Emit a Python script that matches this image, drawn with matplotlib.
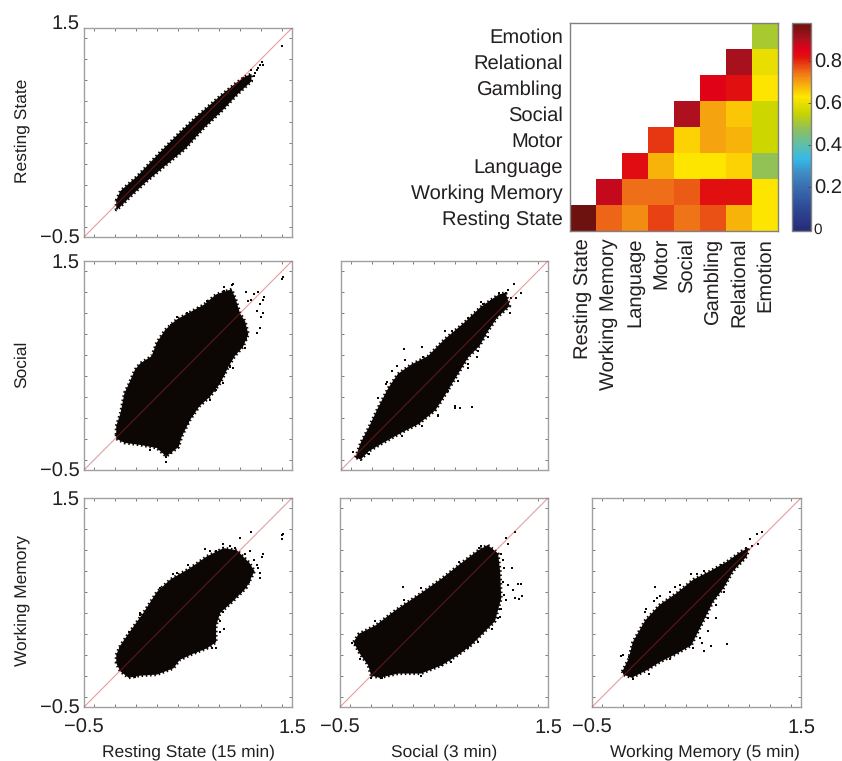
import numpy as np
import matplotlib
matplotlib.use('Agg')
import matplotlib.pyplot as plt
from matplotlib.colors import LinearSegmentedColormap
from matplotlib.transforms import ScaledTranslation

plt.rcParams['font.family'] = ['Liberation Sans', 'DejaVu Sans']
plt.rcParams['text.hinting'] = 'no_hinting'

W, H = 842, 761
ink = '#231f20'
cloud = '#0c0705'

tasks = ['Resting State', 'Working Memory', 'Language', 'Motor', 'Social',
         'Gambling', 'Relational', 'Emotion']
corr = [[0.98, 0.755, 0.72, 0.78, 0.74, 0.77, 0.68, 0.63],
        [np.nan, 0.88, 0.745, 0.745, 0.76, 0.82, 0.82, 0.63],
        [np.nan, np.nan, 0.83, 0.68, 0.63, 0.63, 0.65, 0.48],
        [np.nan, np.nan, np.nan, 0.79, 0.65, 0.695, 0.68, 0.56],
        [np.nan, np.nan, np.nan, np.nan, 0.90, 0.695, 0.66, 0.56],
        [np.nan, np.nan, np.nan, np.nan, np.nan, 0.85, 0.82, 0.63],
        [np.nan, np.nan, np.nan, np.nan, np.nan, np.nan, 0.91, 0.60],
        [np.nan, np.nan, np.nan, np.nan, np.nan, np.nan, np.nan, 0.51]]
cbar_ticks = [0, 0.2, 0.4, 0.6, 0.8]
cbar_min = -0.012
cbar_max = 0.98

# outlines of the dense clouds and the stray points
rest_rest_x = [-0.19, -0.15, 0.01, 0.23, 0.41, 0.58, 0.81, 0.97, 1.06, 1.11, 1.11, 0.97, 0.84, 0.65, 0.47, 0.29, 0.10, -0.04, -0.15, -0.19]
rest_rest_y = [-0.15, -0.06, 0.08, 0.31, 0.49, 0.65, 0.85, 0.98, 1.04, 1.06, 0.99, 0.86, 0.72, 0.54, 0.34, 0.19, 0.03, -0.10, -0.21, -0.24]
rest_rest_px = [1.40, 1.22, 1.19, 1.16, 1.21, 1.14, 1.11, 1.13, 1.17, 1.03, 1.01]
rest_rest_py = [1.33, 1.15, 1.15, 1.10, 1.17, 1.07, 1.10, 1.04, 1.12, 1.02, 0.97]

rest_soc_x = [-0.19, -0.19, -0.15, -0.11, -0.07, -0.01, 0.04, 0.15, 0.20, 0.28, 0.39, 0.50, 0.65, 0.77, 0.92, 0.96, 1.00, 1.05, 1.08, 1.03, 0.95, 0.89, 0.81, 0.71, 0.61, 0.52, 0.44, 0.41, 0.29, 0.20, 0.04, -0.11, -0.19]
rest_soc_y = [-0.16, -0.08, 0.04, 0.24, 0.32, 0.46, 0.52, 0.59, 0.72, 0.84, 0.94, 1.00, 1.08, 1.18, 1.23, 1.13, 1.00, 0.92, 0.80, 0.68, 0.59, 0.49, 0.33, 0.20, 0.11, -0.02, -0.18, -0.28, -0.37, -0.29, -0.26, -0.24, -0.20]
rest_soc_px = [1.40, 1.41, 1.23, 1.19, 1.17, 1.22, 1.20, 0.93, 0.85, 1.08, 1.13, 0.90, 0.85, 0.29,
               0.85, 0.92, 0.77, 0.68, 0.60, 0.49, 0.39, 0.34, 1.06, 1.11, 1.22, 1.16, 1.19, 1.16, 1.06, 1.05, 0.93, 0.90, 0.84, 0.77, 0.71, 0.55, 0.50, 0.29, 0.34, 0.13]
rest_soc_py = [1.33, 1.35, 1.16, 1.09, 1.20, 1.00, 0.96, 1.28, 1.25, 1.12, 1.18, 0.50, 0.42, -0.42,
               1.21, 1.27, 1.16, 1.12, 1.05, 1.00, 0.96, 0.89, 1.20, 1.13, 1.13, 1.02, 0.86, 0.81, 0.75, 0.67, 0.48, 0.49, 0.33, 0.27, 0.17, 0.04, -0.05, -0.38, -0.34, -0.31]

soc_soc_x = [-0.36, -0.31, -0.23, -0.14, -0.04, 0.05, 0.18, 0.34, 0.50, 0.69, 0.85, 1.01, 1.09, 1.13, 1.01, 0.92, 0.84, 0.73, 0.60, 0.47, 0.41, 0.25, 0.09, -0.11, -0.23, -0.31]
soc_soc_y = [-0.38, -0.24, -0.09, 0.10, 0.29, 0.42, 0.51, 0.59, 0.75, 0.91, 1.06, 1.17, 1.20, 1.07, 0.96, 0.83, 0.69, 0.58, 0.37, 0.16, 0.07, -0.06, -0.14, -0.25, -0.32, -0.40]
soc_soc_px = [0.11, 0.28, -0.01, 0.50, 0.60, 0.60, 0.65, 0.77, 1.17, 1.11, 1.24, 1.14, 1.19, 1.03, 1.13, 0.85, -0.06, 0.44, 0.81, 0.73,
              0.12, 0.04, -0.07, -0.14, 0.29, 0.41, 0.57, 0.73, 0.87, 0.95, 1.09, 1.05, 1.01, 0.92, 0.82, 0.73, 0.63, 0.53, 0.44, 0.28, 0.09, -0.23, -0.35, -0.38]
soc_soc_py = [0.66, 0.68, 0.45, 0.83, 0.11, 0.09, 0.09, 0.10, 1.28, 1.22, 1.19, 1.15, 1.15, 1.19, 1.00, 1.11, 0.34, 0.02, 0.58, 0.51,
              0.55, 0.50, 0.32, 0.19, 0.58, 0.64, 0.83, 0.95, 1.09, 1.12, 1.19, 1.17, 1.03, 0.77, 0.64, 0.48, 0.35, 0.26, 0.03, -0.08, -0.17, -0.35, -0.38, -0.33]

rest_wm_x = [-0.19, -0.15, -0.06, 0.07, 0.20, 0.33, 0.52, 0.68, 0.84, 0.97, 1.09, 1.14, 1.06, 0.93, 0.81, 0.77, 0.77, 0.68, 0.55, 0.42, 0.36, 0.20, 0.04, -0.07, -0.15, -0.19]
rest_wm_y = [0.00, 0.09, 0.22, 0.40, 0.60, 0.72, 0.83, 0.94, 1.02, 1.00, 0.88, 0.80, 0.64, 0.51, 0.40, 0.28, 0.12, 0.06, 0.01, -0.05, -0.13, -0.19, -0.20, -0.22, -0.16, -0.08]
rest_wm_px = [1.40, 1.41, 1.40, 1.11, 1.00, 0.66, 0.84, 1.22, 1.21, 1.10, 1.19, 1.19, 1.16, 0.85, 0.77, 0.73, 0.50, 0.36, 0.04, 0.81, 0.90,
              0.77, 0.71, 0.87, 0.95, 1.05, 1.13, 1.17, 1.09, 1.01, 0.90, 0.84, 0.81, 0.74, 0.68, 0.58, 0.39, 0.23, 0.04, -0.07, -0.15, -0.01, 0.65]
rest_wm_py = [1.15, 1.16, 1.11, 1.17, 1.12, 1.01, 1.06, 0.96, 0.94, 0.99, 0.73, 0.78, 0.86, 0.25, 0.06, 0.06, 0.86, 0.77, 0.40, 0.22, 1.04,
              0.99, 0.99, 1.00, 1.02, 0.96, 0.91, 0.83, 0.70, 0.60, 0.52, 0.41, 0.32, 0.12, 0.09, 0.03, 0.78, 0.64, 0.38, 0.22, 0.06, -0.21, 0.91]

soc_wm_x = [-0.20, -0.23, -0.31, -0.37, -0.32, -0.16, 0.04, 0.28, 0.48, 0.67, 0.83, 0.92, 1.02, 1.04, 1.05, 0.99, 0.89, 0.76, 0.64, 0.48, 0.28, 0.06, -0.12]
soc_wm_y = [-0.20, -0.10, 0.01, 0.12, 0.20, 0.28, 0.43, 0.59, 0.73, 0.88, 1.00, 1.05, 0.97, 0.80, 0.54, 0.32, 0.22, 0.09, 0.00, -0.10, -0.18, -0.18, -0.22]
soc_wm_px = [0.11, 1.18, 1.10, 1.12, 1.21, 1.24, 1.25, 1.18, 1.22, 1.15, 1.16, 1.12, 1.10, 1.04, 0.12, -0.38, 0.86, 1.07, 1.05,
             0.96, 1.05, 1.08, 1.07, 1.08, 1.04, 1.02, 0.96, 0.83, 0.73, 0.57, 0.48, 0.28, -0.10, -0.20, -0.31, -0.36, -0.16, -0.04, 0.28, 0.64, 0.84]
soc_wm_py = [0.65, 1.17, 1.12, 1.06, 0.68, 0.68, 0.56, 0.54, 0.53, 0.83, 0.62, 0.67, 0.52, 0.36, 0.52, 0.11, 1.04, 0.91, 0.44,
             1.00, 0.96, 0.83, 0.70, 0.57, 0.44, 0.35, 0.25, 0.12, 0.06, -0.07, -0.10, -0.20, -0.22, -0.22, -0.04, 0.09, 0.32, 0.36, 0.64, 0.89, 1.02]

wm_wm_x = [-0.21, -0.15, -0.11, 0.01, 0.15, 0.31, 0.47, 0.63, 0.79, 0.93, 1.00, 0.98, 0.85, 0.76, 0.66, 0.53, 0.45, 0.31, 0.15, 0.02, -0.12, -0.20]
wm_wm_y = [-0.16, -0.04, 0.12, 0.33, 0.48, 0.59, 0.72, 0.80, 0.89, 0.99, 1.02, 0.94, 0.80, 0.64, 0.51, 0.25, 0.09, 0.01, -0.07, -0.15, -0.22, -0.19]
wm_wm_px = [0.10, 0.79, 0.64, 0.57, 0.61, 1.13, 1.08, 1.09, 1.01, 0.50, 0.45, 0.12, 0.01, 0.29, -0.22, 0.55, 0.69,
            0.02, 0.09, 0.15, 0.25, 0.34, 0.57, 0.73, 0.89, 0.97, 1.03, 0.76, 0.69, 0.61, 0.53, 0.47, 0.25, 0.05, -0.11, -0.15, -0.20]
wm_wm_py = [0.65, 0.10, 0.08, 0.04, 0.23, 1.17, 1.16, 1.06, 1.11, 0.77, 0.77, 0.54, 0.41, 0.65, -0.01, 0.11, 0.35,
            0.44, 0.51, 0.56, 0.60, 0.67, 0.80, 0.86, 0.94, 1.02, 1.04, 0.60, 0.48, 0.35, 0.16, 0.06, -0.04, -0.18, -0.23, -0.02, 0.00]

cmap_vals = [cbar_min, 0.1, 0.2, 0.27, 0.33, 0.40, 0.47, 0.55, 0.63, 0.74, 0.82, 0.86, 0.90, 0.96, cbar_max]
cmap_colors = ['#272a78', '#2f4a98', '#3a6fb0', '#3f8fc8', '#35b8e8', '#5fbfa8', '#8cbf60', '#c8d400',
               '#ffe600', '#f07818', '#e2100f', '#e0001a', '#b01020', '#7a1210', '#6e120f']
cmap_pos = [(v - cbar_min) / (cbar_max - cbar_min) for v in cmap_vals]
jetish = LinearSegmentedColormap.from_list('jetish', list(zip(cmap_pos, cmap_colors)))


def px_axes(left, top, right, bottom):
    return fig.add_axes([left / W, 1 - bottom / H, (right - left) / W, (bottom - top) / H])


def scatter_panel(box, ox, oy, px, py, xlabel=None, ylabel=None, ynums=True, label_x=0.5, top_shift=0):
    ax = px_axes(*box)
    ax.fill(ox, oy, color=cloud, lw=0, zorder=2)
    ax.plot(ox + ox[:1], oy + oy[:1], color=cloud, lw=2.2, ls=(0, (0.5, 0.9)), zorder=2)
    ax.scatter(px, py, s=2.4, color=cloud, marker='s', lw=0, zorder=2)
    ax.plot([-0.5, 1.5], [-0.5, 1.5], color='#c62828', lw=0.8, alpha=0.45, zorder=3)
    ax.set_xlim(-0.5, 1.5)
    ax.set_ylim(-0.5, 1.5)
    ax.set_xticks([-0.5, 1.5])
    ax.set_yticks([-0.5, 1.5])
    ax.set_xticks(np.arange(-0.4, 1.5, 0.2), minor=True)
    ax.set_yticks(np.arange(-0.4, 1.5, 0.2), minor=True)
    ax.tick_params(which='major', length=0, labelsize=14.5, labelcolor=ink)
    ax.tick_params(axis='x', which='major', pad=8)
    ax.tick_params(axis='y', which='major', pad=3)
    ax.tick_params(which='minor', direction='in', length=2, width=0.6, color='#666666',
                   top=True, right=True)
    if xlabel:
        ax.set_xticklabels(['\u22120.5', '1.5'])
        ax.set_xlabel(xlabel, fontsize=12.5, color=ink, labelpad=5, x=label_x)
    else:
        ax.set_xticklabels([])
    if ynums:
        ax.set_yticklabels(['\u22120.5', '1.5'])
        if top_shift:
            lab = ax.get_yticklabels()[1]
            lab.set_transform(lab.get_transform() + ScaledTranslation(0, top_shift / 100, fig.dpi_scale_trans))
    else:
        ax.set_yticklabels([])
    if ylabel:
        fig.text(22 / W, 1 - (box[1] + box[3] - 3) / 2 / H, ylabel, rotation=90, fontsize=12.5,
                 color=ink, ha='center', va='center')
    for s in ax.spines.values():
        s.set_color('#a0a0a0')
        s.set_linewidth(1.0)
    return ax


fig = plt.figure(figsize=(W / 100, H / 100), dpi=100)

scatter_panel((84, 28, 292, 237), rest_rest_x, rest_rest_y, rest_rest_px, rest_rest_py,
              ylabel='Resting State', top_shift=6)
scatter_panel((84, 261, 292, 470), rest_soc_x, rest_soc_y, rest_soc_px, rest_soc_py,
              ylabel='Social')
scatter_panel((341, 261, 548, 470), soc_soc_x, soc_soc_y, soc_soc_px, soc_soc_py, ynums=False)
scatter_panel((84, 498, 292, 707), rest_wm_x, rest_wm_y, rest_wm_px, rest_wm_py,
              xlabel='Resting State (15 min)', ylabel='Working Memory')
scatter_panel((340, 498, 548, 707), soc_wm_x, soc_wm_y, soc_wm_px, soc_wm_py,
              xlabel='Social (3 min)', ynums=False)
scatter_panel((592, 498, 801, 707), wm_wm_x, wm_wm_y, wm_wm_px, wm_wm_py,
              xlabel='Working Memory (5 min)', ynums=False, label_x=0.54)

# correlation matrix
ax = px_axes(570, 23, 778, 231)
im = ax.imshow(np.array(corr), origin='lower', cmap=jetish, vmin=cbar_min, vmax=cbar_max, aspect='auto')
ax.set_xticks(range(len(tasks)))
ax.set_yticks(range(len(tasks)))
ax.set_xticklabels(tasks, rotation=90, fontsize=14.5, color=ink)
ax.set_yticklabels(tasks, fontsize=14.5, color=ink)
ax.tick_params(length=0, pad=5)
ax.set_xticks(np.arange(0, len(tasks)), minor=True)
ax.set_yticks(np.arange(0, len(tasks)), minor=True)
ax.tick_params(which='minor', direction='in', length=2, width=0.6, color='#666666', top=True, bottom=False)
for s in ax.spines.values():
    s.set_color('#808080')
    s.set_linewidth(1.0)

cax = px_axes(792, 23, 811, 231)
cb = fig.colorbar(im, cax=cax)
cb.set_ticks(cbar_ticks)
cb.set_ticklabels(['0', '0.2', '0.4', '0.6', '0.8'])
cb.ax.tick_params(length=2, direction='in', width=0.6, labelsize=14.5, labelcolor=ink, pad=2, color='#444444')
cb.ax.get_yticklabels()[0].set_fontsize(11)
cb.outline.set_edgecolor('#808080')
cb.outline.set_linewidth(1.0)

fig.savefig('out.png', dpi=100)
